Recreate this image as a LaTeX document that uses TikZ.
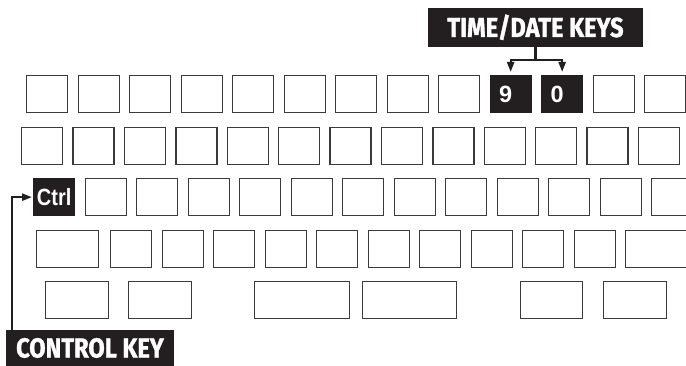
\documentclass[tikz,border=0pt]{standalone}
\usepackage{fontspec}
\usetikzlibrary{positioning,arrows.meta}
\newfontfamily\tagfont{Fira Sans}[FakeStretch=0.86,FakeBold=1.2]
\newfontfamily\capfont{Liberation Sans}
\newfontfamily\ctrlfont{Liberation Sans}[FakeStretch=0.85]
\definecolor{ink}{HTML}{231F20}
\definecolor{rim}{HTML}{3A3A3A}

\begin{document}
\begin{tikzpicture}[x=1pt, y=-1pt,
    keybox/.style={draw=rim, line width=1.3pt, fill=white, minimum width=41pt, minimum height=37pt, inner sep=0pt, anchor=north west},
    darkkey/.style={keybox, draw=ink, fill=ink, text=white, font=\capfont\bfseries\fontsize{23.5}{24}\selectfont},
    digit/.style={darkkey, text width=23pt, align=left},
    tag/.style={fill=ink, text=white, inner sep=0pt, text height=19pt, text depth=0pt, font=\tagfont\bfseries\fontsize{27.5}{28}\selectfont},
    pointer/.style={ink, line width=2.2pt, -{Triangle[length=10pt,width=7pt]}}]
  \path[use as bounding box, clip] (0,0) rectangle (686,366);
  \foreach \i in {0,...,8,11,12} \node[keybox] (a\i) at ({26+51.5*\i},75) {};
  \node[digit] (nine) at (489.5,75) {9};
  \node[digit] (zero) at (541,75) {0};
  \foreach \i in {0,...,12} \node[keybox] (b\i) at ({21+51.4*\i},127) {};
  \node[darkkey, font=\ctrlfont\bfseries\fontsize{23.5}{24}\selectfont] (ctrl) at (33,178) {Ctrl};
  \foreach \i in {1,...,12} \node[keybox] (c\i) at ({33+51.5*\i},178) {};
  \node[keybox, minimum width=62pt] (d0) at (36,230) {};
  \foreach \i in {1,...,10} \node[keybox] (d\i) at ({58.5+51.5*\i},230) {};
  \node[keybox, minimum width=70pt] (d11) at (625,230) {};
  \foreach \x/\w [count=\n] in {45/63,128/63,254/95,362/94,520/62,603/63}
    \node[keybox, minimum width=\w pt] (e\n) at (\x,281) {};
  \node[tag, minimum width=215pt, minimum height=39pt] (timetag) at (535.5,27.5) {TIME/DATE KEYS};
  \node[tag, minimum width=168pt, minimum height=36pt] (ctrltag) at (90,348) {CONTROL KEY};
  \draw[ink, line width=2.2pt] (timetag.south) -- ++(0,13) coordinate (fork);
  \draw[pointer, shorten >=3pt] (fork) -| (nine.north);
  \draw[pointer, shorten >=3pt] (fork) -| (zero.north);
  \draw[pointer, shorten >=1pt] ([xshift=6pt]ctrltag.north west) |- (ctrl.west);
\end{tikzpicture}
\end{document}
